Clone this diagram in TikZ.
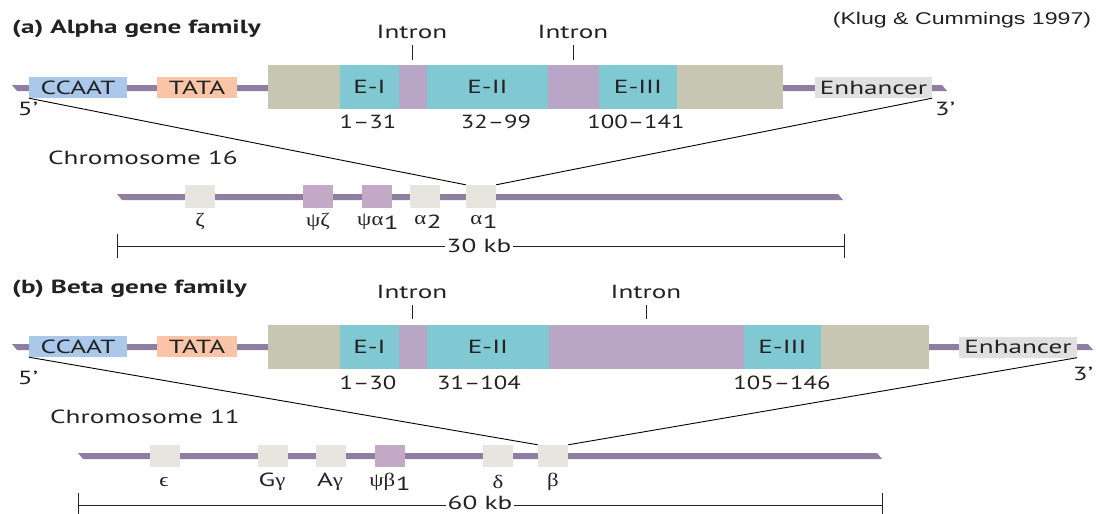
\documentclass[tikz,border=0pt]{standalone}
\usepackage{fontspec}
\setmainfont{PT Sans}[FakeStretch=1.43]
\newfontfamily\numfont{PT Sans}[FakeStretch=1.3]
\newfontfamily\citefont{Liberation Sans}[FakeStretch=1.36]
\newfontfamily\grk{Liberation Serif}[FakeStretch=1.2]

\definecolor{dna}{HTML}{8E7FA0}
\definecolor{ccaat}{HTML}{AAC8EA}
\definecolor{tata}{HTML}{F9C4A8}
\definecolor{utr}{HTML}{C6C6B2}
\definecolor{exon}{HTML}{80C8D2}
\definecolor{intron}{HTML}{B9A5C5}
\definecolor{enh}{HTML}{E0E0E0}
\definecolor{gene}{HTML}{E6E6DE}
\definecolor{pseudo}{HTML}{C2AAC6}
\definecolor{txt}{HTML}{222222}

\newcommand{\dnastrand}[3]{% x1, x2, y
  \fill[dna] (#1,#3-3) -- (#2-5,#3-3) -- (#2,#3+3) -- (#1+5,#3+3) -- cycle;}
\newcommand{\idx}[1]{\kern0.5pt\raisebox{-0.4ex}{#1}}

\begin{document}
\begin{tikzpicture}[x=1pt,y=-1pt,
  seg/.style={draw=none, inner sep=0pt, minimum height=44, text=txt,
    font=\fontsize{19}{21}\selectfont},
  ctl/.style={draw=none, inner sep=0pt, minimum height=21, text=txt,
    font=\fontsize{19}{21}\selectfont},
  chr/.style={draw=none, inner sep=0pt, minimum height=23, minimum width=30},
  lab/.style={inner sep=0pt, text=txt, font=\fontsize{19}{21}\selectfont},
  num/.style={inner sep=0pt, text=txt, font=\numfont\fontsize{19}{21}\selectfont},
  ttl/.style={inner sep=0pt, anchor=west, text=txt,
    font=\fontsize{19}{21}\selectfont\bfseries},
  glab/.style={inner sep=0pt, text=txt, font=\fontsize{19}{21}\selectfont},
  expand/.style={draw=black, line width=0.9pt},
  bar/.style={draw=txt, line width=0.9pt},
  tick/.style={draw=txt, line width=0.8pt}]
\useasboundingbox (0,0) rectangle (1096,514);
\fill[white] (0,0) rectangle (1096,514);

\node[inner sep=0pt, text=txt, font=\citefont\fontsize{17}{19}\selectfont]
  (cite) at (962,20) {(Klug \& Cummings 1997)};

% ---------------- (a) alpha gene family ----------------
\node[ttl] (titleA) at (12,29) {(a) Alpha gene family};

\dnastrand{12}{947}{88}
\node[ctl, fill=ccaat, minimum width=98] (ccaatA) at (78,87.5) {CCAAT};
\node[ctl, fill=tata, minimum width=80] (tataA) at (197,87.5) {TATA};
\node[seg, fill=utr, minimum width=72] (u5A) at (304,87) {};
\node[seg, fill=exon, minimum width=59] (e1A) at (369.5,87) {E-I};
\node[seg, fill=intron, minimum width=28] (i1A) at (413,87) {};
\node[seg, fill=exon, minimum width=121] (e2A) at (487.5,87) {E-II};
\node[seg, fill=intron, minimum width=51] (i2A) at (573.5,87) {};
\node[seg, fill=exon, minimum width=78] (e3A) at (638,87) {E-III};
\node[seg, fill=utr, minimum width=106] (u3A) at (730,87) {};
\node[ctl, fill=enh, minimum width=117] (enhA) at (873.5,87.5) {Enhancer};

\node[lab] (intA1) at (412,32) {Intron};
\node[lab] (intA2) at (573,32) {Intron};
\coordinate (tA1a) at (412,45); \coordinate (tA1b) at (412,60);
\coordinate (tA2a) at (573,45); \coordinate (tA2b) at (573,60);
\draw[tick] (tA1a) -- (tA1b);
\draw[tick] (tA2a) -- (tA2b);

\node[num] (nA1) at (368,122) {1–31};
\node[num] (nA2) at (496,122) {32–99};
\node[num] (nA3) at (636,122) {100–141};
\node[lab] (p5A) at (28,109) {5’};
\node[lab] (p3A) at (945,109) {3’};

\node[lab, anchor=west] (chrA) at (48,158) {Chromosome 16};
\dnastrand{117}{843}{197}
\node[chr, fill=gene] (zeta) at (200,196.5) {};
\node[chr, fill=pseudo] (psizeta) at (317.5,196.5) {};
\node[chr, fill=pseudo] (psialpha) at (376.5,196.5) {};
\node[chr, fill=gene] (alphaB) at (425,196.5) {};
\node[chr, fill=gene] (alphaA) at (481,196.5) {};

\node[glab] (lzeta) at (200,222) {\grk ζ};
\node[glab] (lpsizeta) at (318,222) {\grk ψζ};
\node[glab] (lpsialpha) at (378,222) {{\grk ψα}\idx{1}};
\node[glab] (lalphaB) at (428,222) {{\grk α}\idx{2}};
\node[glab] (lalphaA) at (484,222) {{\grk α}\idx{1}};

\draw[expand] (ccaatA.south west) -- (alphaA.north west);
\draw[expand] (enhA.south east) -- (alphaA.north east);

\coordinate (sA1) at (117,246); \coordinate (sA2) at (844,246);
\draw[bar] (sA1) -- (sA2);
\draw[bar] ([yshift=12pt]sA1) -- ([yshift=-12pt]sA1);
\draw[bar] ([yshift=12pt]sA2) -- ([yshift=-12pt]sA2);
\node[lab, fill=white, inner xsep=2pt] (kbA) at (479,246) {30 kb};

% ---------------- (b) beta gene family ----------------
\node[ttl] (titleB) at (12,289) {(b) Beta gene family};

\dnastrand{12}{1093}{347}
\node[ctl, fill=ccaat, minimum width=98] (ccaatB) at (78,346.5) {CCAAT};
\node[ctl, fill=tata, minimum width=80] (tataB) at (197,346.5) {TATA};
\node[seg, fill=utr, minimum width=72] (u5B) at (304,347) {};
\node[seg, fill=exon, minimum width=59] (e1B) at (369.5,347) {E-I};
\node[seg, fill=intron, minimum width=28] (i1B) at (413,347) {};
\node[seg, fill=exon, minimum width=122] (e2B) at (488,347) {E-II};
\node[seg, fill=intron, minimum width=195] (i2B) at (646.5,347) {};
\node[seg, fill=exon, minimum width=77] (e3B) at (782.5,347) {E-III};
\node[seg, fill=utr, minimum width=108] (u3B) at (875,347) {};
\node[ctl, fill=enh, minimum width=118] (enhB) at (1018,347) {Enhancer};

\node[lab] (intB1) at (412,292) {Intron};
\node[lab] (intB2) at (646,292) {Intron};
\coordinate (tB1a) at (412,305); \coordinate (tB1b) at (412,319);
\coordinate (tB2a) at (646,305); \coordinate (tB2b) at (646,319);
\draw[tick] (tB1a) -- (tB1b);
\draw[tick] (tB2a) -- (tB2b);

\node[num] (nB1) at (368,383) {1–30};
\node[num] (nB2) at (479,383) {31–104};
\node[num] (nB3) at (782,383) {105–146};
\node[lab] (p5B) at (28,378) {5’};
\node[lab] (p3B) at (1083,374) {3’};

\node[lab, anchor=west] (chrB) at (50,417) {Chromosome 11};
\dnastrand{78}{882}{456}
\node[chr, fill=gene, minimum height=22] (epsilon) at (164.5,456) {};
\node[chr, fill=gene, minimum height=22] (Ggamma) at (272.5,456) {};
\node[chr, fill=gene, minimum height=22] (Agamma) at (331,456) {};
\node[chr, fill=pseudo, minimum height=22] (psibeta) at (389.5,456) {};
\node[chr, fill=gene, minimum height=22] (delta) at (498,456) {};
\node[chr, fill=gene, minimum height=22] (beta) at (553,456) {};

\node[glab] (lepsilon) at (164,482) {\grk ϵ};
\node[glab] (lGgamma) at (272,482) {G{\grk γ}};
\node[glab] (lAgamma) at (330,482) {A{\grk γ}};
\node[glab] (lpsibeta) at (390,482) {{\grk ψβ}\idx{1}};
\node[glab] (ldelta) at (498,482) {\grk δ};
\node[glab] (lbeta) at (553,482) {\grk β};

\draw[expand] (ccaatB.south west) -- (beta.north west);
\draw[expand] (enhB.south east) -- (beta.north east);

\coordinate (sB1) at (78,505); \coordinate (sB2) at (882,505);
\draw[bar] (sB1) -- (sB2);
\draw[bar] ([yshift=12pt]sB1) -- ([yshift=-12pt]sB1);
\draw[bar] ([yshift=12pt]sB2) -- ([yshift=-12pt]sB2);
\node[lab, fill=white, inner xsep=2pt, inner ysep=0pt] (kbB) at (480,503) {60 kb};
\end{tikzpicture}
\end{document}
